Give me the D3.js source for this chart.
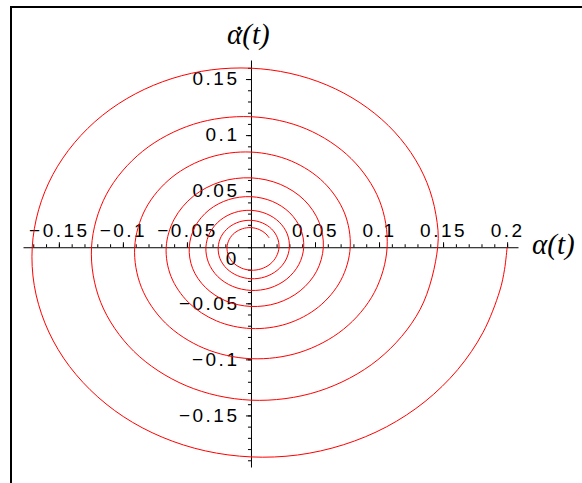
<!DOCTYPE html>
<html>
<head>
<meta charset="utf-8">
<script src="https://cdn.jsdelivr.net/npm/d3@7"></script>
<style>
  html, body { margin: 0; padding: 0; background: #fff; }
  svg { display: block; }
</style>
</head>
<body>
<script>
// Phase-plane trajectory of the damped pendulum: 32 samples per turn on the
// outer turn, 16 per turn afterwards
const alpha = [
  0.2000, 0.1980, 0.1942, 0.1812, 0.1614, 0.1359, 0.1058, 0.0721, 0.0364,
  0.0000, -0.0357, -0.0693, -0.0997, -0.1256, -0.1463, -0.1609, -0.1692,
  -0.1708, -0.1658, -0.1547, -0.1378, -0.1161, -0.0903, -0.0616, -0.0311,
  0.0000, 0.0305, 0.0592, 0.0851, 0.1073, 0.1249, 0.1374, 0.1444,
  0.1458, 0.1321, 0.0991, 0.0526, 0.0000, -0.0506, -0.0916, -0.1173,
  -0.1245, -0.1128, -0.0846, -0.0449, 0.0000, 0.0432, 0.0782, 0.1002,
  0.1063, 0.0963, 0.0723, 0.0383, 0.0000, -0.0369, -0.0668, -0.0855,
  -0.0908, -0.0822, -0.0617, -0.0327, 0.0000, 0.0315, 0.0570, 0.0730,
  0.0775, 0.0702, 0.0527, 0.0280, 0.0000, -0.0269, -0.0487, -0.0624,
  -0.0662, -0.0599, -0.0450, -0.0239, 0.0000, 0.0229, 0.0416, 0.0532,
  0.0565, 0.0512, 0.0384, 0.0204, 0.0000, -0.0196, -0.0355, -0.0455,
  -0.0482, -0.0437, -0.0328, -0.0174, 0.0000, 0.0167, 0.0303, 0.0388,
  0.0412, 0.0373, 0.0280, 0.0149, 0.0000, -0.0143, -0.0259, -0.0331,
  -0.0352, -0.0319, -0.0239, -0.0127, 0.0000, 0.0122, 0.0221, 0.0283,
  0.0300, 0.0272, 0.0204, 0.0108, 0.0000, -0.0104, -0.0189, -0.0242,
  -0.0256, -0.0232, -0.0174, -0.0092, 0.0000, 0.0089, 0.0161, 0.0206,
  0.0219, 0.0198, 0.0149, 0.0079, 0.0000, -0.0076, -0.0138, -0.0176,
  -0.0187, -0.0169, -0.0127, -0.0067, 0.0000, 0.0065, 0.0117, 0.0142
];
const alphaDot = [
  0.0000, -0.0197, -0.0391, -0.0759, -0.1092, -0.1376, -0.1602, -0.1762, -0.1853,
  -0.1870, -0.1816, -0.1694, -0.1510, -0.1271, -0.0989, -0.0675, -0.0341,
  0.0000, 0.0334, 0.0648, 0.0932, 0.1175, 0.1368, 0.1505, 0.1582,
  0.1597, 0.1551, 0.1447, 0.1289, 0.1085, 0.0844, 0.0576, 0.0291,
  0.0000, -0.0554, -0.1003, -0.1285, -0.1364, -0.1235, -0.0927, -0.0492,
  0.0000, 0.0473, 0.0856, 0.1097, 0.1164, 0.1055, 0.0791, 0.0420,
  0.0000, -0.0404, -0.0731, -0.0937, -0.0994, -0.0900, -0.0676, -0.0359,
  0.0000, 0.0345, 0.0624, 0.0800, 0.0849, 0.0769, 0.0577, 0.0306,
  0.0000, -0.0294, -0.0533, -0.0683, -0.0725, -0.0657, -0.0493, -0.0261,
  0.0000, 0.0251, 0.0455, 0.0583, 0.0619, 0.0561, 0.0421, 0.0223,
  0.0000, -0.0215, -0.0389, -0.0498, -0.0528, -0.0479, -0.0359, -0.0191,
  0.0000, 0.0183, 0.0332, 0.0425, 0.0451, 0.0409, 0.0307, 0.0163,
  0.0000, -0.0156, -0.0283, -0.0363, -0.0385, -0.0349, -0.0262, -0.0139,
  0.0000, 0.0134, 0.0242, 0.0310, 0.0329, 0.0298, 0.0224, 0.0119,
  0.0000, -0.0114, -0.0207, -0.0265, -0.0281, -0.0254, -0.0191, -0.0101,
  0.0000, 0.0097, 0.0176, 0.0226, 0.0240, 0.0217, 0.0163, 0.0086,
  0.0000, -0.0083, -0.0151, -0.0193, -0.0205, -0.0185, -0.0139, -0.0074,
  0.0000, 0.0071, 0.0129, 0.0165, 0.0175, 0.0158, 0.0119, 0.0083
];

// Labelled ticks on each axis (the origin gets a single "0")
const xTickLabels = [-0.15, -0.1, -0.05, 0.05, 0.1, 0.15, 0.2];
const yTickLabels = [-0.15, -0.1, -0.05, 0.05, 0.1, 0.15];
const originLabel = "0";
const xTitle = "α(t)";
const yTitle = "α(t)";
const yTitleDot = ".";

const W = 582, H = 483;
const svg = d3.select("body").append("svg")
  .attr("width", W).attr("height", H);

// window frame
svg.append("rect")
  .attr("x", 11).attr("y", 7)
  .attr("width", 620).attr("height", 520)
  .attr("fill", "none").attr("stroke", "#000").attr("stroke-width", 2);

const x = d3.scaleLinear().domain([-0.178, 0.2085]).range([23, 518]);
const y = d3.scaleLinear().domain([-0.196, 0.167]).range([467, 60]);

const x0 = x(0), y0 = y(0);

// minor tick positions every 0.01
const xMinor = d3.range(-17, 21).map(i => i / 100);
const yMinor = d3.range(-19, 17).map(i => i / 100);

const labelFont = "'Liberation Sans', Arial, sans-serif";

// horizontal axis through the origin, ticks pointing up
const gx = svg.append("g").attr("transform", `translate(0,${y0})`);
gx.call(d3.axisTop(x).tickValues(xMinor).tickSize(3).tickSizeOuter(0).tickFormat(""));
gx.append("g").call(d3.axisTop(x).tickValues(xTickLabels).tickSize(5).tickSizeOuter(0)
  .tickPadding(5).tickFormat(d3.format("")))
  .call(g => g.select(".domain").remove());

// vertical axis through the origin, ticks pointing left
const gy = svg.append("g").attr("transform", `translate(${x0},0)`);
gy.call(d3.axisLeft(y).tickValues(yMinor).tickSize(3).tickSizeOuter(0).tickFormat(""));
gy.append("g").call(d3.axisLeft(y).tickValues(yTickLabels).tickSize(5).tickSizeOuter(0)
  .tickPadding(6.5).tickFormat(d3.format("")))
  .call(g => g.select(".domain").remove());

svg.selectAll(".domain, .tick line").attr("stroke", "#000").attr("stroke-width", 1);
svg.selectAll(".tick text")
  .attr("fill", "#000")
  .style("font-family", labelFont)
  .style("font-size", "19px")
  .style("letter-spacing", "2.5px");
gy.selectAll(".tick text").attr("dy", "0.30em");

svg.append("text")
  .attr("x", x0 - 20).attr("y", y0 + 18)
  .attr("text-anchor", "middle")
  .style("font-family", labelFont).style("font-size", "19px")
  .text(originLabel);

// trajectory
const pts = alpha.map((a, i) => [a, alphaDot[i]]);
const line = d3.line().x(d => x(d[0])).y(d => y(d[1])).curve(d3.curveCatmullRom.alpha(0.5));
svg.append("path")
  .attr("d", line(pts))
  .attr("fill", "none")
  .attr("stroke", "#ff0000")
  .attr("stroke-width", 1);

// axis titles
const titleFont = "'Liberation Serif', 'DejaVu Serif', serif";
svg.append("text")
  .attr("x", 532).attr("y", 254)
  .style("font-family", titleFont).style("font-style", "italic").style("font-size", "29px")
  .text(xTitle);

// time-derivative title: alpha(t) with a dot placed over the alpha
const yt = svg.append("text")
  .style("font-family", titleFont).style("font-size", "29px");
yt.append("tspan")
  .attr("x", 227).attr("y", 44)
  .style("font-style", "italic")
  .text(yTitle);
yt.append("tspan")
  .attr("x", 235.5).attr("y", 30)
  .text(yTitleDot);
</script>
</body>
</html>
